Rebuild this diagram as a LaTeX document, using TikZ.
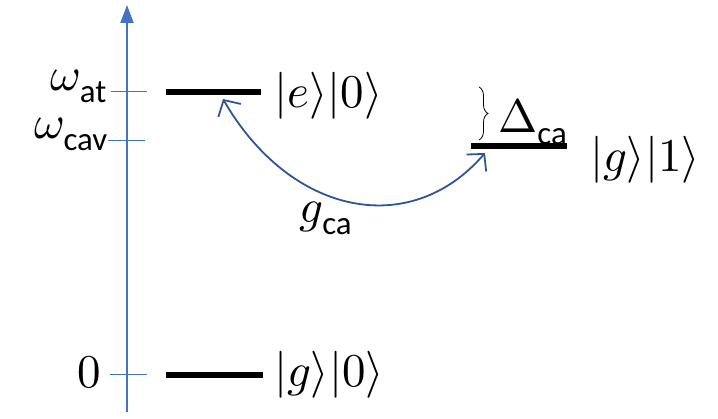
\documentclass[tikz,border=0pt]{standalone}
\usepackage{amsmath}
\usepackage{fontspec}
\usepackage{unicode-math}
\setmathfont{Latin Modern Math}
\newfontfamily\calib{Carlito}
\usetikzlibrary{arrows.meta,decorations.pathreplacing}
\newcommand{\sub}[1]{\text{\calib #1}}
\begin{document}
\begin{tikzpicture}[x=1pt,y=-1pt,
  level/.style={draw=black, line width=5.5pt},
  lbl/.style={font=\fontsize{47}{54}\selectfont, inner sep=0pt}]
\definecolor{axisblue}{HTML}{4472C4}
\definecolor{curveblue}{HTML}{2F5597}
\useasboundingbox (0,0) rectangle (718,419);
% axis
\coordinate (axb) at (127,412);
\coordinate (axt) at (127,5);
\draw[line width=2pt, draw=axisblue, -{Triangle[length=18pt,width=13pt]}] (axb) -- (axt);
% ticks
\coordinate (t1a) at (111,92); \coordinate (t1b) at (147,92);
\coordinate (t2a) at (108,141); \coordinate (t2b) at (145,141);
\coordinate (t3a) at (110,375); \coordinate (t3b) at (147,375);
\draw[line width=1pt, draw=axisblue] (t1a) -- (t1b);
\draw[line width=1pt, draw=axisblue] (t2a) -- (t2b);
\draw[line width=1pt, draw=axisblue] (t3a) -- (t3b);
% axis labels
\node[lbl, anchor=east] (wat) at (107,86) {$\omega_{\sub{at}}$};
\node[lbl, anchor=east] (wcav) at (108,134) {$\omega_{\sub{cav}}$};
\node[lbl, anchor=east] (zero) at (101,372) {$0$};
% levels
\coordinate (e1) at (166,92); \coordinate (e2) at (261,92);
\coordinate (g1a) at (471,146); \coordinate (g1b) at (567,146);
\coordinate (g0a) at (166,375); \coordinate (g0b) at (263,375);
\draw[level] (e1) -- (e2);
\draw[level] (g1a) -- (g1b);
\draw[level] (g0a) -- (g0b);
% state labels
\node[lbl, anchor=west] (le) at (274,96) {$|e\rangle|0\rangle$};
\node[lbl, anchor=west] (lg1) at (590,160) {$|g\rangle|1\rangle$};
\node[lbl, anchor=west] (lg0) at (274,375) {$|g\rangle|0\rangle$};
% brace
\coordinate (bt) at (479,87);
\coordinate (bb) at (479,140);
\draw[decorate, decoration={brace, amplitude=9pt}, line width=0.8pt] (bt) -- (bb);
\node[lbl, anchor=west] (dca) at (498,122) {$\Delta_{\sub{ca}}$};
% coupling
\coordinate (ce) at (223,99);
\coordinate (cg) at (485,153);
\draw[line width=1.8pt, draw=curveblue, {Straight Barb[length=12pt,width=26pt,line width=1.8pt]}-{Straight Barb[length=12pt,width=26pt,line width=1.8pt]}] (ce) .. controls (290,215) and (410,240) .. (cg);
\node[lbl] (gca) at (326,218) {$g_{\sub{ca}}$};
\end{tikzpicture}
\end{document}
